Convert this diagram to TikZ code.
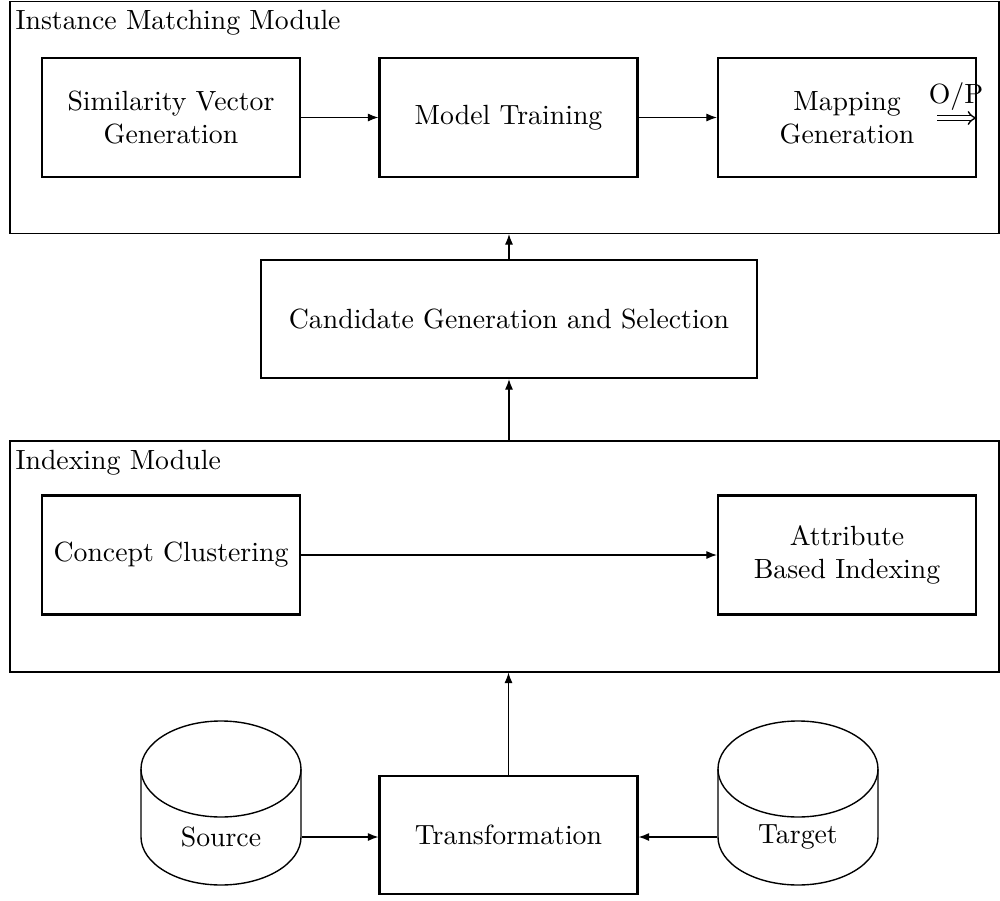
\documentclass[tikz,border=0pt]{standalone}
\usetikzlibrary{arrows.meta}
\begin{document}
\begin{tikzpicture}[x=0.36pt,y=-0.36pt,
  frame/.style={draw,line width=0.4pt,minimum width=356.04pt,inner sep=0pt},
  box/.style={draw,line width=0.8pt,minimum width=92.88pt,minimum height=42.84pt,align=center,inner sep=0pt},
  lbl/.style={anchor=base west,inner sep=0pt},
  conn/.style={line width=0.4pt,-{Latex[length=3.8pt,width=2.9pt]}},
  cyl/.style={line width=0.5pt}]
\useasboundingbox (0,0) rectangle (1000,901);
% frames
\node[frame,minimum height=83.52pt] (imm) at (504.5,117.5) {};
\node[lbl] (immlbl) at (15,29) {Instance Matching Module};
\node[frame,minimum height=83.16pt] (idx) at (504.5,556.5) {};
\node[lbl] (idxlbl) at (15,469) {Indexing Module};
% boxes
\node[box] (svg) at (171,117.5) {Similarity Vector\\Generation};
\node[box] (mt) at (508.5,117.5) {Model Training};
\node[box] (mg) at (847,117.5) {Mapping\\Generation};
\node[box,minimum width=178.56pt,minimum height=42.48pt] (cgs) at (509,319) {Candidate Generation and Selection};
\node[box] (cc) at (171,555) {Concept Clustering};
\node[box] (ab) at (847,555) {Attribute\\Based Indexing};
\node[box,minimum height=42.48pt] (tr) at (508.5,835) {Transformation};
% cylinders
\foreach \cx in {221,798}{
  \draw[cyl] (\cx-80,769) -- (\cx-80,837) arc[start angle=180,end angle=360,x radius=28.8pt,y radius=17.28pt] -- (\cx+80,769);
  \draw[cyl] (\cx,769) ellipse[x radius=28.8pt,y radius=17.28pt];
}
\node[minimum width=57.6pt,inner sep=0pt] (src) at (221,837) {Source};
\node[minimum width=57.6pt,inner sep=0pt] (tgt) at (798,837) {Target};
% connectors
\draw[conn] (svg) -- (mt);
\draw[conn] (mt) -- (mg);
\draw[conn] (cgs.north) -- (cgs.north |- imm.south);
\draw[conn] (idx.north -| cgs.south) -- (cgs.south);
\draw[conn] (cc) -- (ab);
\draw[conn] (tr.north) -- (tr.north |- idx.south);
\draw[conn] (src.east) -- (tr.west |- src.east);
\draw[conn] (tgt.west) -- (tr.east |- tgt.west);
% output
\coordinate (opstart) at (937,118);
\draw[double,line width=0.5pt,double distance=1.2pt,-{Implies}] (opstart) -- (opstart -| mg.east);
\node[anchor=base,inner sep=0pt] (op) at (956,103) {O/P};
\end{tikzpicture}
\end{document}
